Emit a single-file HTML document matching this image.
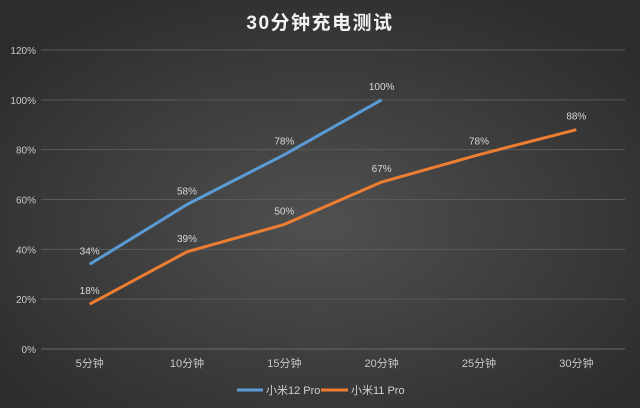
<!DOCTYPE html>
<html><head><meta charset="utf-8"><style>
body{margin:0;width:640px;height:408px;overflow:hidden;background:#3a3a3a}
svg{display:block}
text{font-family:"Liberation Sans","Noto Sans CJK SC",sans-serif}
</style></head><body>
<svg id="chart" width="640" height="408" viewBox="0 0 640 408" xmlns="http://www.w3.org/2000/svg">
<defs><radialGradient id="bg" cx="50%" cy="55%" r="65%"><stop offset="0" stop-color="#505050"/><stop offset="1" stop-color="#2c2c2c"/></radialGradient></defs>
<rect width="640" height="408" fill="url(#bg)"/>
<text x="320" y="29" text-anchor="middle" font-size="19" font-weight="bold" fill="#f2f2f2" letter-spacing="1.5">30分钟充电测试</text>
<g id="grid"></g><g id="xaxis"></g><g id="series"></g>
<g>
<line x1="237" y1="390" x2="263" y2="390" stroke="#5b9bd5" stroke-width="3"/>
<text x="266" y="394" font-size="11" fill="#d0d0d0">小米12 Pro</text>
<line x1="321" y1="390" x2="348" y2="390" stroke="#ed7d31" stroke-width="3"/>
<text x="351" y="394" font-size="11" fill="#d0d0d0">小米11 Pro</text>
</g>
</svg>
<script>
const categories=["5分钟","10分钟","15分钟","20分钟","25分钟","30分钟"];
const yTicks=[0,20,40,60,80,100,120];
const mi12=[34,58,78,100,null,null];
const mi11=[18,39,50,67,78,88];
const NS="http://www.w3.org/2000/svg";
const L=41,R=625,T=50,B=349,band=(R-L)/categories.length;
const x=i=>L+band*(i+0.5), y=v=>B-(v/120)*(B-T);
function mk(tag,attrs,parent,txt){const e=document.createElementNS(NS,tag);for(const k in attrs)e.setAttribute(k,attrs[k]);if(txt!=null)e.textContent=txt;parent.appendChild(e);return e;}
const g=document.getElementById('grid');
yTicks.forEach(t=>{
 const l=mk('line',{x1:L,x2:R,y1:y(t),y2:y(t),stroke:t===0?'#6a6a6a':'#5a5a5a','stroke-width':1},g);
 
 
 const tx=mk('text',{x:36,y:y(t)+4,'text-anchor':'end','font-size':10,fill:'#c8c8c8'},g,t+'%');
 
 
});
const xa=document.getElementById('xaxis');
categories.forEach((c,i)=>{
 const tx=mk('text',{x:x(i),y:367,'text-anchor':'middle','font-size':11,fill:'#c8c8c8'},xa,c);
 
 
});
const s=document.getElementById('series');
[[mi12,'#5b9bd5','series-xiaomi12pro'],[mi11,'#ed7d31','series-xiaomi11pro']].forEach(([d,col,nm])=>{
 const pts=d.map((v,i)=>v==null?null:x(i)+','+y(v)).filter(p=>p);
 const pl=mk('polyline',{points:pts.join(' '),fill:'none',stroke:col,'stroke-width':3,'stroke-linejoin':'round'},s);
 
 
 d.forEach((v,i)=>{if(v==null)return;
  const tx=mk('text',{x:x(i),y:y(v)-10,'text-anchor':'middle','font-size':10,fill:'#d8d8d8'},s,v+'%');
  
  
 });
});
</script>
</body></html>
